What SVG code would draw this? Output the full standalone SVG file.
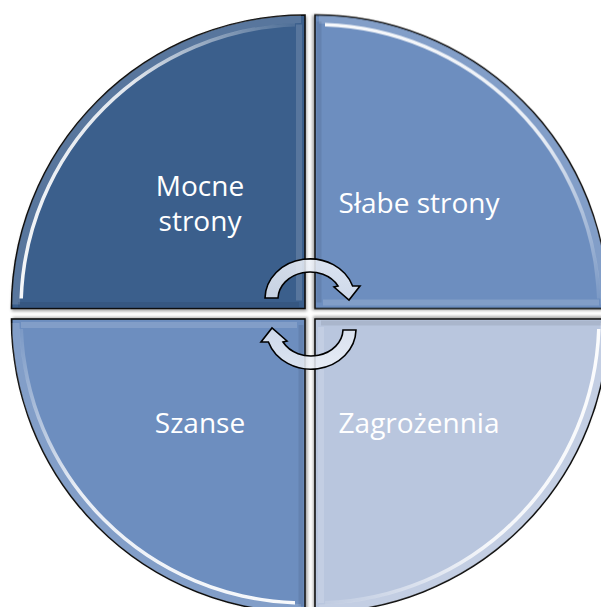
<svg xmlns="http://www.w3.org/2000/svg" width="601" height="607" viewBox="0 0 601 607">
<defs>
  <style>
    .q { stroke: #111; stroke-width: 1.6; }
    .lbl { font-family: "Open Sans", "Noto Sans", "DejaVu Sans", sans-serif; font-size: 28px; fill: #ffffff; text-anchor: middle; }
    .hl { fill: none; stroke-linecap: butt; }
    .arrow { fill: url(#arrowFill); fill-opacity: 0.85; stroke: #000; stroke-width: 1.6; stroke-linejoin: miter; }
  </style>
  <filter id="shadow" x="-10%" y="-10%" width="120%" height="120%">
    <feDropShadow dx="1" dy="2" stdDeviation="1.5" flood-color="#000" flood-opacity="0.35"/>
  </filter>
  <filter id="soft" x="-5%" y="-5%" width="110%" height="110%">
    <feGaussianBlur stdDeviation="0.7"/>
  </filter>
  <linearGradient id="hlArc" gradientUnits="userSpaceOnUse" x1="-284" y1="-10" x2="-10" y2="-284">
    <stop offset="0" stop-color="#fff" stop-opacity="0.95"/>
    <stop offset="0.6" stop-color="#fff" stop-opacity="0.85"/>
    <stop offset="1" stop-color="#fff" stop-opacity="0.1"/>
  </linearGradient>
  <linearGradient id="hlEdge" gradientUnits="userSpaceOnUse" x1="0" y1="-280" x2="0" y2="-14">
    <stop offset="0" stop-color="#fff" stop-opacity="0.45"/>
    <stop offset="0.3" stop-color="#fff" stop-opacity="0.75"/>
    <stop offset="1" stop-color="#fff" stop-opacity="0.7"/>
  </linearGradient>
  <linearGradient id="arrowFill" x1="0" y1="0" x2="0" y2="1">
    <stop offset="0" stop-color="#eef2f9"/>
    <stop offset="1" stop-color="#dfe6f2"/>
  </linearGradient>
  <g id="bevel">
    <path d="M -289 -4 A 289.5 289.5 0 0 1 -4 -289.5" class="hl" stroke="#fff" stroke-opacity="0.15" stroke-width="8"/>
    <path d="M -283.8 -10 A 284 284 0 0 1 -10 -283.8" class="hl" stroke="url(#hlArc)" stroke-width="3.5" filter="url(#soft)"/>
    <path d="M -11 -279 L -11 -15" class="hl" stroke="url(#hlEdge)" stroke-width="4" filter="url(#soft)"/>
    <path d="M -6 -284 L -6 -8" class="hl" stroke="#fff" stroke-opacity="0.15" stroke-width="6"/>
    <path d="M -287 -4 L -6 -4" class="hl" stroke="#000" stroke-opacity="0.08" stroke-width="5"/>
  </g>
  <path id="quad" d="M 0 0 L -293.5 0 A 293.5 293.5 0 0 1 0 -293.5 Z"/>
</defs>

<rect x="0" y="0" width="601" height="607" fill="#ffffff"/>

<g id="node-mocne-strony">
  <g transform="translate(305,308.5)">
    <use href="#quad" class="q" fill="#3a5e8c" filter="url(#shadow)"/>
    <use href="#bevel"/>
  </g>
  <text class="lbl" x="200" y="196">Mocne</text>
  <text class="lbl" x="200" y="231">strony</text>
</g>

<g id="node-slabe-strony">
  <g transform="translate(315,308.5) rotate(90)">
    <use href="#quad" class="q" fill="#6d8ebf" filter="url(#shadow)"/>
    <use href="#bevel"/>
  </g>
  <text class="lbl" x="419" y="213">Słabe strony</text>
</g>

<g id="node-szanse">
  <g transform="translate(305,319) rotate(270)">
    <use href="#quad" class="q" fill="#6d8ebf" filter="url(#shadow)"/>
    <use href="#bevel"/>
  </g>
  <text class="lbl" x="200" y="433">Szanse</text>
</g>

<g id="node-zagrozennia">
  <g transform="translate(315,319) rotate(180)">
    <use href="#quad" class="q" fill="#b9c6de" filter="url(#shadow)"/>
    <use href="#bevel"/>
  </g>
  <text class="lbl" x="419" y="433">Zagrożennia</text>
</g>

<g id="connectors">
  <path id="arrowTop" class="arrow" d="M 265 298 A 45 40 0 0 1 352.6 286 L 360 286 L 349 300 L 334 287 L 338 286 A 32 27 0 0 0 278 298 Z"/>
  <path class="arrow" transform="rotate(180 310.5 314)" d="M 265 298 A 45 40 0 0 1 352.6 286 L 360 286 L 349 300 L 334 287 L 338 286 A 32 27 0 0 0 278 298 Z"/>
</g>
</svg>
